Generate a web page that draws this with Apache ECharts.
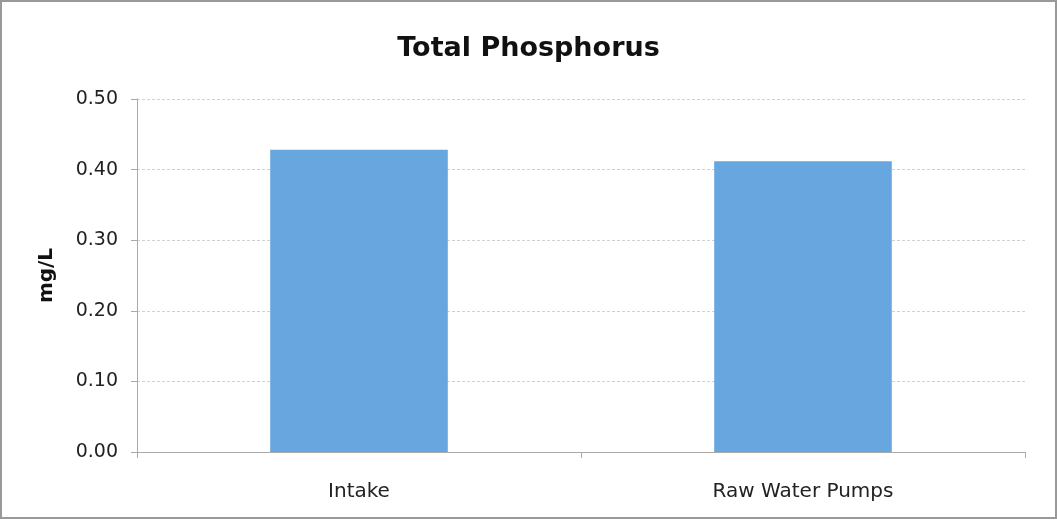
<!DOCTYPE html>
<html><head><meta charset="utf-8">
<script src="https://cdn.jsdelivr.net/npm/echarts@6/dist/echarts.min.js"></script>
<style>html,body{margin:0;padding:0;background:#fff;}#c{width:1057px;height:522px;}</style>
</head><body><div id="c"></div>
<script>
const categories = ["Intake", "Raw Water Pumps"];
const values = [0.428, 0.412];
const yTicks = { min: 0, max: 0.5, interval: 0.1 };
const title = "Total Phosphorus";
const yName = "mg/L";

const FONT = 'DejaVu Sans';
const chart = echarts.init(document.getElementById('c'));
chart.setOption({
  backgroundColor: '#fff',
  animation: false,
  title: { text: title, left: 'center', top: 30,
    textStyle: { fontFamily: FONT, fontWeight: 'bold', fontSize: 27, color: '#111' } },
  graphic: [{ type: 'rect', shape: { x: 1, y: 1, width: 1055, height: 517 },
    style: { fill: 'none', stroke: '#999', lineWidth: 2 }, silent: true }],
  grid: { left: 137, right: 32, top: 99, bottom: 70 },
  xAxis: { type: 'category', data: categories,
    axisLine: { lineStyle: { color: '#aaa' } },
    axisTick: { show: true, length: 6, lineStyle: { color: '#aaa' } },
    axisLabel: { fontFamily: FONT, fontSize: 20, color: '#222', margin: 30 } },
  yAxis: { type: 'value', min: yTicks.min, max: yTicks.max, interval: yTicks.interval,
    name: yName, nameLocation: 'middle', nameGap: 80,
    nameTextStyle: { fontFamily: FONT, fontWeight: 'bold', fontSize: 20, color: '#111' },
    axisLine: { show: true, lineStyle: { color: '#aaa' } },
    axisTick: { show: true, length: 6, lineStyle: { color: '#aaa' } },
    axisLabel: { fontFamily: FONT, fontSize: 19, color: '#222', margin: 19,
      formatter: v => v.toFixed(2) },
    splitLine: { lineStyle: { color: '#d2d2d2', type: [3, 2] } } },
  series: [{ type: 'bar', data: values, barWidth: '40%',
    itemStyle: { color: '#67a6df' } }]
});
</script></body></html>
